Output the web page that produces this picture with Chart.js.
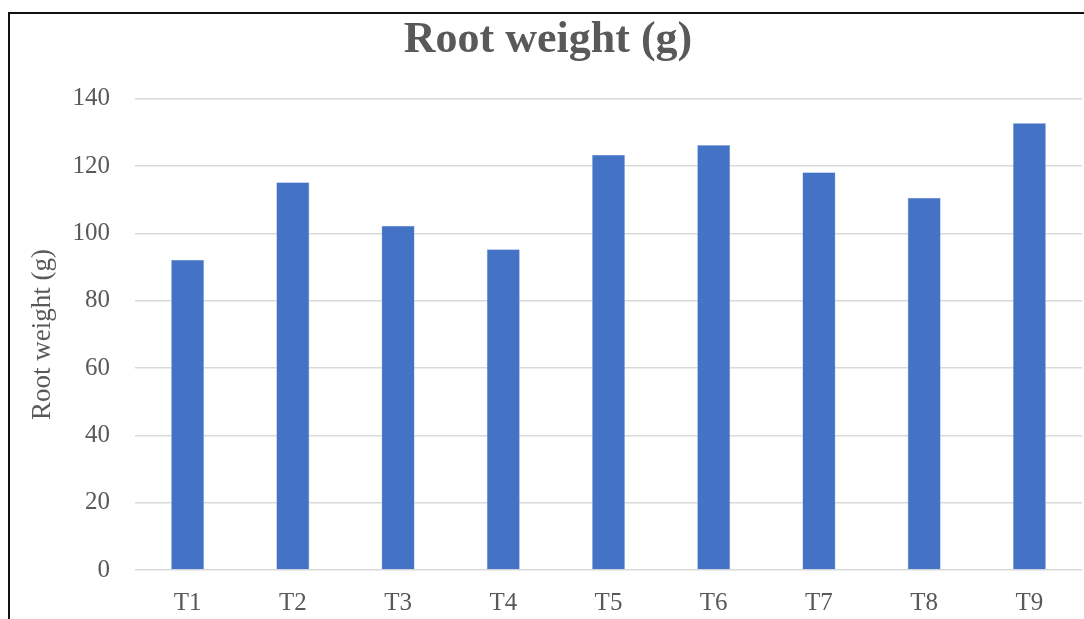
<!DOCTYPE html>
<html lang="en">
<head>
  <meta charset="UTF-8">
  <title>Root weight (g)</title>
  <script src="https://cdn.jsdelivr.net/npm/chart.js@4"></script>
  <style>
    * { box-sizing: border-box; margin: 0; padding: 0; }
    html, body { width: 1084px; height: 619px; overflow: hidden; background: #fff; }
    .frame { position: absolute; left: 8px; top: 12px; width: 1200px; height: 700px; border-left: 2px solid #111; border-top: 2px solid #111; }
    .wrap { position: absolute; left: 0; top: 0; width: 1084px; height: 619px; }
  </style>
</head>
<body>
<div class="frame"></div>
<div class="wrap"><canvas id="rootChart"></canvas></div>

<script>
// ── Data ────────────────────────────────────────────────────────────────────
const treatments = ['T1', 'T2', 'T3', 'T4', 'T5', 'T6', 'T7', 'T8', 'T9'];
const rootWeight = [92.2, 115.2, 102.3, 95.3, 123.4, 126.3, 118.2, 110.6, 132.8];
const yTicks = [0, 20, 40, 60, 80, 100, 120, 140];

const serif = "'Liberation Serif', 'Times New Roman', serif";
const textColor = '#595959';
const gridColor = '#d9d9d9';

new Chart(document.getElementById('rootChart'), {
  type: 'bar',
  data: {
    labels: treatments,
    datasets: [{
      label: 'Root weight (g)',
      data: rootWeight,
      backgroundColor: '#4472c4',
      borderColor: '#a9c1ea',
      borderWidth: 0.6,
      barPercentage: 0.315,
      categoryPercentage: 1
    }]
  },
  options: {
    responsive: true,
    maintainAspectRatio: false,
    animation: false,
    layout: { padding: { left: 14, right: 2, top: 0, bottom: 0 } },
    plugins: {
      legend: { display: false },
      tooltip: { enabled: false },
      title: {
        display: true,
        text: 'Root weight (g)',
        color: textColor,
        font: { family: serif, size: 44, weight: 'bold' },
        padding: { top: 14, bottom: 32 }
      }
    },
    scales: {
      x: {
        grid: { display: false, drawTicks: false },
        border: { display: false },
        ticks: { color: textColor, font: { family: serif, size: 25 }, padding: 18 },
        afterFit: s => { s.height = 49; }
      },
      y: {
        min: 0,
        max: 140,
        afterBuildTicks: s => { s.ticks = yTicks.map(v => ({ value: v })); },
        grid: { color: gridColor, lineWidth: 1.6, drawTicks: false },
        border: { display: false },
        ticks: { color: textColor, font: { family: serif, size: 25 }, padding: 25 },
        title: {
          display: true,
          text: 'Root weight (g)',
          color: textColor,
          font: { family: serif, size: 27 },
          padding: { top: 13, bottom: 0 }
        },
        afterFit: s => { s.width = 121; }
      }
    }
  }
});
</script>
</body>
</html>
